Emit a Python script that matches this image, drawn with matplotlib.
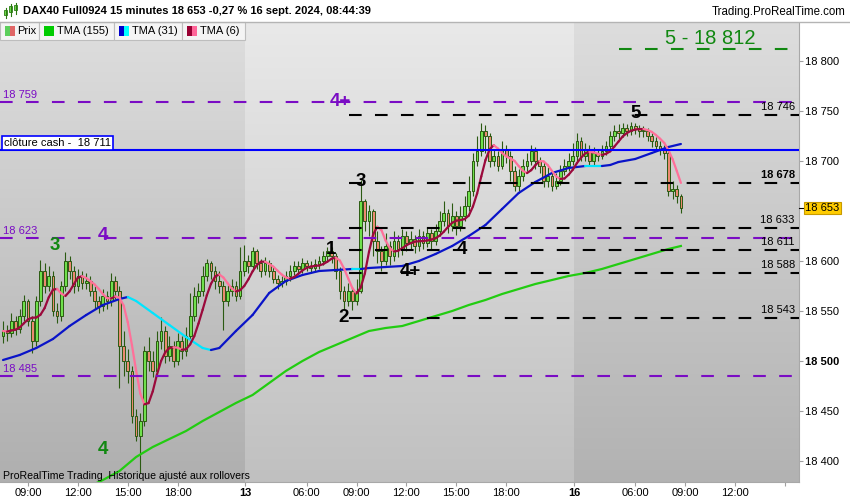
import numpy as np
import pandas as pd
import matplotlib
matplotlib.use('Agg')
import matplotlib.pyplot as plt
from matplotlib.collections import LineCollection
from matplotlib.patches import Rectangle
from matplotlib.colors import to_rgb

plt.rcParams['font.family'] = ['Liberation Sans', 'DejaVu Sans']
plt.rcParams['lines.scale_dashes'] = False

# 15 minute bars: 12 sept (07:30-21:45), 13 sept (02:15-21:45), 16 sept (02:15-08:45)
first_open = 18525
closes = [18530, 18528, 18540, 18532, 18545, 18560, 18540, 18520, 18560, 18590,
          18575, 18585, 18550, 18545, 18575, 18600, 18590, 18575, 18585, 18578,
          18580, 18570, 18560, 18555, 18565, 18560, 18580, 18570, 18515, 18500,
          18490, 18445, 18425, 18440, 18510, 18500, 18490, 18520, 18530, 18505,
          18515, 18500, 18520, 18510, 18525, 18545, 18565, 18570, 18585, 18598,
          18590, 18580, 18575, 18560, 18570, 18575, 18565, 18590,
          18600, 18595, 18610, 18598, 18590, 18598, 18590, 18582, 18578, 18580,
          18585, 18590, 18595, 18592, 18598, 18595, 18593, 18597, 18600, 18605,
          18610, 18605, 18590, 18570, 18560, 18570, 18560, 18570, 18660, 18640,
          18650, 18620, 18610, 18600, 18615, 18605, 18620, 18612, 18625, 18618,
          18622, 18615, 18625, 18618, 18628, 18620, 18630, 18640, 18648, 18635,
          18645, 18635, 18645, 18655, 18670, 18700, 18710, 18730, 18725, 18700,
          18705, 18695, 18712, 18705, 18690, 18675, 18685, 18695, 18700, 18710,
          18700, 18695, 18680, 18685, 18675, 18680, 18690, 18695, 18700,
          18705, 18720, 18705, 18712, 18700, 18708, 18705, 18710, 18715, 18725,
          18730, 18728, 18733, 18730, 18735, 18732, 18730, 18730, 18725, 18720,
          18715, 18712, 18708, 18670, 18672, 18665, 18653]
highs = [18540, 18536, 18548, 18545, 18552, 18566, 18562, 18545, 18565, 18601,
         18598, 18595, 18590, 18558, 18580, 18609, 18605, 18595, 18592, 18590,
         18588, 18585, 18575, 18565, 18572, 18570, 18588, 18585, 18575, 18530,
         18512, 18495, 18452, 18448, 18515, 18524, 18510, 18530, 18544, 18535,
         18525, 18520, 18528, 18525, 18534, 18568, 18574, 18578, 18595, 18602,
         18600, 18595, 18590, 18580, 18576, 18582, 18580, 18614,
         18616, 18606, 18614, 18612, 18602, 18604, 18601, 18594, 18586, 18585,
         18590, 18596, 18600, 18600, 18603, 18601, 18600, 18602, 18605, 18610,
         18614, 18614, 18608, 18594, 18575, 18578, 18574, 18582, 18681, 18662,
         18656, 18652, 18630, 18615, 18628, 18620, 18630, 18626, 18632, 18630,
         18630, 18626, 18632, 18630, 18634, 18632, 18637, 18650, 18660, 18652,
         18658, 18650, 18655, 18665, 18685, 18708, 18725, 18738, 18736, 18728,
         18712, 18710, 18720, 18716, 18710, 18695, 18692, 18702, 18708, 18716,
         18714, 18704, 18700, 18694, 18690, 18688, 18696, 18702, 18708,
         18718, 18728, 18724, 18718, 18716, 18714, 18712, 18716, 18720, 18730,
         18736, 18737, 18738, 18737, 18739, 18738, 18736, 18735, 18733, 18728,
         18724, 18720, 18716, 18711, 18680, 18676, 18667]
lows = [18518, 18520, 18524, 18526, 18528, 18540, 18535, 18508, 18515, 18555,
        18568, 18570, 18545, 18538, 18540, 18570, 18582, 18568, 18570, 18572,
        18572, 18565, 18552, 18548, 18550, 18552, 18555, 18562, 18473, 18485,
        18478, 18438, 18420, 18388, 18435, 18490, 18484, 18485, 18512, 18498,
        18500, 18494, 18496, 18502, 18505, 18520, 18540, 18558, 18565, 18580,
        18582, 18572, 18568, 18531, 18555, 18565, 18560, 18562,
        18585, 18588, 18590, 18592, 18584, 18586, 18584, 18578, 18572, 18574,
        18576, 18580, 18586, 18588, 18588, 18590, 18588, 18590, 18592, 18596,
        18600, 18598, 18582, 18562, 18551, 18555, 18551, 18556, 18568, 18630,
        18625, 18605, 18598, 18590, 18596, 18596, 18600, 18604, 18606, 18610,
        18612, 18608, 18610, 18612, 18614, 18612, 18616, 18625, 18635, 18628,
        18630, 18626, 18630, 18640, 18650, 18665, 18695, 18705, 18708, 18694,
        18695, 18690, 18692, 18698, 18680, 18670, 18670, 18680, 18690, 18696,
        18692, 18688, 18674, 18674, 18670, 18672, 18676, 18686, 18690,
        18696, 18700, 18700, 18700, 18696, 18696, 18700, 18702, 18706, 18712,
        18720, 18722, 18724, 18725, 18726, 18727, 18724, 18724, 18720, 18714,
        18710, 18706, 18702, 18665, 18662, 18658, 18648]

# moving averages (bar index, value)
tma31_idx = [0, 4, 8, 12, 16, 20, 24, 28, 30, 32, 36, 40, 44, 48, 50, 52, 56, 60,
             64, 68, 72, 76, 80, 84, 86, 88, 92, 96, 100, 104, 108, 112, 116, 120,
             124, 128, 132, 136, 140, 144, 146, 148, 152, 156, 160, 163]
tma31_val = [18501, 18506, 18513, 18522, 18535, 18546, 18556, 18562, 18564, 18560,
             18548, 18536, 18524, 18513, 18511, 18513, 18530, 18546, 18568, 18580,
             18586, 18590, 18591, 18592, 18592, 18593, 18594, 18595, 18600, 18607,
             18615, 18625, 18636, 18652, 18668, 18679, 18688, 18693, 18695, 18695,
             18696, 18699, 18702, 18708, 18714, 18717]
tma155_idx = [20, 24, 28, 32, 36, 40, 44, 48, 52, 56, 60, 64, 68, 72, 76, 80, 84,
              88, 92, 96, 100, 104, 108, 112, 116, 120, 124, 128, 132, 136, 140,
              144, 148, 152, 156, 160, 163]
tma155_val = [18373, 18381, 18390, 18404, 18414, 18422, 18430, 18440, 18449, 18458,
              18466, 18478, 18490, 18500, 18509, 18516, 18523, 18530, 18533, 18535,
              18540, 18545, 18550, 18556, 18561, 18567, 18572, 18577, 18581, 18585,
              18588, 18592, 18597, 18602, 18607, 18612, 18615]

purple_levels = [18759, 18623, 18485]
black_levels = [18746, 18678, 18633, 18611, 18588, 18543]
black_start = 83.2
cash_close = 18711
target_level = 18812
last_price = 18653

tick_pos = [6, 18, 30, 42, 58.3, 73, 85, 97, 109, 121, 137.3, 152, 164, 176, 188]
tick_lab = ['09:00', '12:00', '15:00', '18:00', '13', '06:00', '09:00', '12:00',
            '15:00', '18:00', '16', '06:00', '09:00', '12:00', '']
y_ticks = [18400, 18450, 18500, 18550, 18600, 18700, 18750, 18800]

# wave labels: (text, bar index, price, colour)
wave_labels = [('3', 12.5, 18616, '#118811'), ('4', 24.0, 18625, '#7a0cc4'),
               ('4', 24.0, 18411, '#118811'), ('1', 78.9, 18611, 'black'),
               ('2', 82.0, 18543, 'black'), ('3', 86.1, 18680, 'black'),
               ('4+', 97.9, 18589, 'black'), ('4', 110.4, 18611, 'black'),
               ('5', 152.2, 18747, 'black'), ('4+', 81.0, 18760, '#7a0cc4')]

XMIN, XMAX = -0.73, 191.4
YMIN, YMAX = 18379, 18839

fig = plt.figure(figsize=(8.5, 5), dpi=100, facecolor='white')
ax = fig.add_axes([0, 18 / 500, 799 / 850, 460 / 500])


def shade(x0, x1, top, bottom):
    g = np.linspace(0, 1, 200)[:, None, None]
    ct, cb = np.array(to_rgb(top)), np.array(to_rgb(bottom))
    img = ct + (cb - ct) * g
    ax.imshow(img, extent=[x0, x1, YMIN, YMAX], origin='upper', aspect='auto',
              zorder=0, interpolation='bilinear')


shade(XMIN, tick_pos[4], '#dedede', '#afafaf')
shade(tick_pos[4], tick_pos[10], '#e9e9e9', '#c0c0c0')
shade(tick_pos[10], XMAX, '#dddddd', '#b2b2b2')

# candles
c = np.array(closes, dtype=float)
o = np.r_[first_open, c[:-1]]
x = np.arange(len(c))
up = c >= o
edge = '#2b5a12'
ax.vlines(x, lows, highs, color=edge, lw=0.8, zorder=3)
body_h = np.maximum(np.abs(c - o), 0.8)
ax.bar(x, body_h, bottom=np.minimum(o, c), width=0.66,
       color=np.where(up, '#6fe04c', '#ec8a70'), edgecolor=edge, linewidth=0.7, zorder=4)


def two_tone(xs, ys, col_up, col_down, lw, strict=True):
    xs, ys = np.asarray(xs, float), np.asarray(ys, float)
    pts = np.column_stack([xs, ys])
    segs = np.stack([pts[:-1], pts[1:]], axis=1)
    rising = (ys[1:] > ys[:-1]) if strict else (ys[1:] >= ys[:-1])
    cols = [col_up if r else col_down for r in rising]
    ax.add_collection(LineCollection(segs, colors=cols, linewidths=lw, zorder=5,
                                     capstyle='round', joinstyle='round'))


ax.plot(tma155_idx, tma155_val, color='#22cc11', lw=1.6, zorder=5)
two_tone(tma31_idx, tma31_val, '#0a14c8', '#00e5ff', 1.6)
tma6 = pd.Series(c).rolling(3, min_periods=1).mean().rolling(4, min_periods=1).mean()
two_tone(x, tma6.values, '#9b0a3c', '#ff7099', 1.6, strict=False)

# horizontal levels
dash = (0, (9.1, 9.6))
for lv in purple_levels:
    ax.axhline(lv, color='#7a0cc4', lw=1.5, ls=dash, zorder=6)
    ax.text(0, lv + 7, f'{lv:,}'.replace(',', ' '), color='#7a0cc4', fontsize=8,
            va='center', ha='left', zorder=7)
ax.hlines(black_levels, black_start, XMAX, color='black', lw=1.5, ls=dash, zorder=6)
for lv in black_levels:
    ax.text(190.4, lv + 8, f'{lv:,}'.replace(',', ' '), color='black', fontsize=8,
            va='center', ha='right', zorder=7,
            fontweight='bold' if lv == 18678 else 'normal')
ax.axhline(cash_close, color='#0000ff', lw=1.5, zorder=6)
ax.text(0.2, cash_close + 7.5, 'clôture cash -  18 711', fontsize=8, va='center',
        ha='left', zorder=8,
        bbox=dict(boxstyle='square,pad=0.18', fc='white', ec='#0000ff', lw=1.2))
ax.hlines(target_level, 148, 189, color='#118811', lw=1.5, ls=dash, zorder=6)
ax.text(170, target_level + 11, '5 - 18 812', color='#118811', fontsize=14.5,
        ha='center', va='center', zorder=7)

for txt, xi, yp, col in wave_labels:
    ax.text(xi, yp, txt, color=col, fontsize=13.5, fontweight='bold',
            ha='center', va='center', zorder=8)

# axes
ax.set_xlim(XMIN, XMAX)
ax.set_ylim(YMIN, YMAX)
ax.set_aspect('auto')
ax.yaxis.tick_right()
ax.set_yticks(y_ticks)
ax.set_yticklabels([f'{v:,}'.replace(',', ' ') for v in y_ticks])
ax.get_yticklabels()[2].set_fontweight('bold')
ax.get_yticklabels()[2].set_fontsize(9)
ax.set_xticks(tick_pos)
ax.set_xticklabels(tick_lab)
for lab in ax.get_xticklabels():
    if lab.get_text() in ('13', '16'):
        lab.set_fontweight('bold')
        lab.set_fontsize(9)
ax.tick_params(axis='both', direction='out', length=3, width=0.8, color='#a0a0a0',
               labelsize=8, pad=1.5)
for s in ('top', 'left'):
    ax.spines[s].set_visible(False)
for s in ('right', 'bottom'):
    ax.spines[s].set_color('#a8a8a8')
ytr = ax.get_yaxis_transform()
ax.plot([1.0, 1.006], [last_price, last_price], transform=ytr, color='black',
        lw=0.8, clip_on=False, zorder=9)
ax.text(1.0075, last_price, '18 653', transform=ytr, fontsize=8,
        va='center', ha='left', clip_on=False, zorder=9,
        bbox=dict(boxstyle='square,pad=0.12', fc='#ffcc00', ec='#c89b00', lw=0.8))

# header, legend strip and footer in pixel coordinates
hd = fig.add_axes([0, 0, 1, 1], zorder=10)
hd.set_xlim(0, 850)
hd.set_ylim(500, 0)
hd.axis('off')
hd.patch.set_visible(False)
hd.add_patch(Rectangle((0, 0), 850, 21.5, fc='white', ec='none'))
hd.plot([0, 850], [21.5, 21.5], color='#b4b4b4', lw=1)
for (gx, gy0, gy1, bx0, bx1) in [(6, 8, 18, 10, 15), (11, 4, 16, 6, 12), (16, 3, 14, 5, 10)]:
    hd.plot([gx, gx], [gy0, gy1], color='#2b7a12', lw=0.8)
    hd.add_patch(Rectangle((gx - 1.5, bx0), 3, bx1 - bx0, fc='#6fe04c', ec='#2b7a12', lw=0.6))
hd.text(23, 11, 'DAX40 Full0924 15 minutes 18 653 -0,27 % 16 sept. 2024, 08:44:39',
        fontsize=8, fontweight='bold', va='center', ha='left')
hd.text(846, 12, 'Trading.ProRealTime.com', fontsize=8.3, va='center', ha='right')

boxes = [(0, 39, 'Prix', 17, [('#5ccf5c', 5, 10), ('#e06666', 10, 15)]),
         (39, 114, 'TMA (155)', 57, [('#00cc00', 44, 54)]),
         (114, 182, 'TMA (31)', 132, [('#0000cc', 119, 124), ('#00ffff', 124, 129)]),
         (182, 245, 'TMA (6)', 200, [('#990033', 187, 192), ('#ff6699', 192, 197)])]
for bx0, bx1, name, tx, sw in boxes:
    hd.add_patch(Rectangle((bx0, 22), bx1 - bx0, 18, fc='#f4f4f4', ec='#bdbdbd', lw=0.8))
    for col, s0, s1 in sw:
        hd.add_patch(Rectangle((s0, 26), s1 - s0, 10, fc=col, ec='none'))
    hd.text(tx, 31.5, name, fontsize=8, va='center', ha='left')

hd.text(3, 476, 'ProRealTime Trading  Historique ajusté aux rollovers', fontsize=7.6,
        va='center', ha='left')

fig.savefig('out.png', dpi=100, facecolor='white')
